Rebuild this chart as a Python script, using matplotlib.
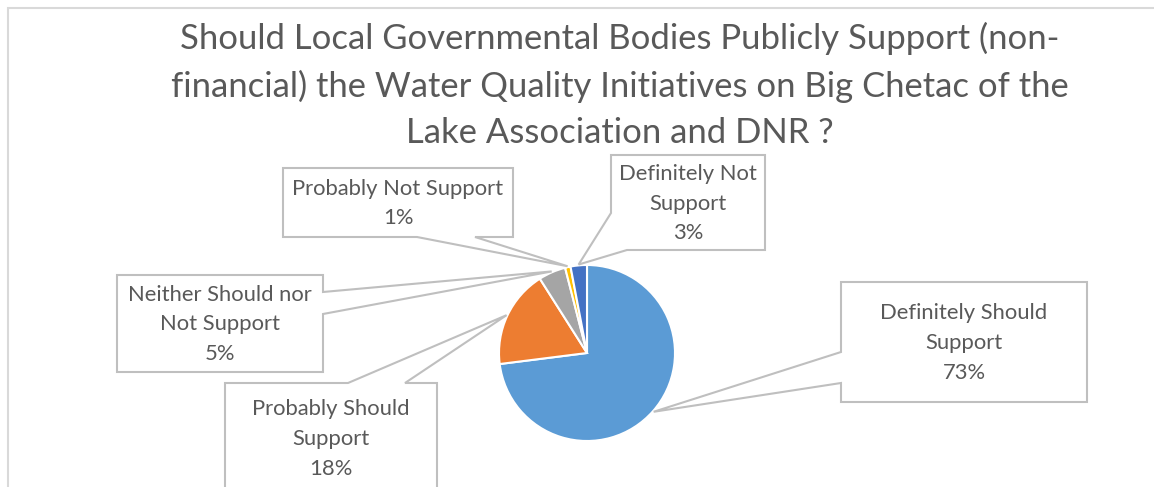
import numpy as np
import matplotlib.pyplot as plt
from matplotlib.patches import Polygon

# datos
labels = ['Definitely Should\nSupport', 'Probably Should\nSupport', 'Neither Should nor\nNot Support',
          'Probably Not Support', 'Definitely Not\nSupport']
values = [73, 18, 5, 1, 3]
colors = ['#5B9BD5', '#ED7D31', '#A5A5A5', '#FFC000', '#4472C4']
title = ('Should Local Governmental Bodies Publicly Support (non-\n'
         'financial) the Water Quality Initiatives on Big Chetac of the\n'
         'Lake Association and DNR ?')

W, H = 1154, 487
cx, cy, r = 587, 353, 88
gray_txt = '#595959'
gray_ln = '#BFBFBF'
plt.rcParams['font.family'] = ['Lato', 'DejaVu Sans']

fig = plt.figure(figsize=(W/100, H/100), dpi=100)
ax = fig.add_axes([0, 0, 1, 1])
ax.set_xlim(0, W); ax.set_ylim(H, 0)
ax.set_aspect('equal'); ax.axis('off')

# marco del grafico
ax.plot([8, 8, W + 5], [H + 5, 8, 8], color='#D9D9D9', lw=1.5, solid_joinstyle='miter')

wedges, _ = ax.pie(values, colors=colors, center=(cx, cy), radius=r, startangle=-90,
                   counterclock=True, wedgeprops=dict(edgecolor='white', linewidth=1.5),
                   frame=True)
ax.set_xlim(0, W); ax.set_ylim(H, 0); ax.axis('off')

# cajas de etiquetas: rect (x0,y0,x1,y1), indice de insercion, puntos de union, esquinas a saltar
boxes = [
    ((841, 282, 1087, 402), 4, [(841, 383), (841, 352)], 0),
    ((225, 383, 437, 495), 1, [(348, 383), (405, 383)], 0),
    ((117, 275, 323, 372), 2, [(323, 292), (323, 314)], 0),
    ((283, 168, 513, 237), 3, [(475, 237), (417, 237)], 0),
    ((611, 155, 765, 250), 3, [(627, 250), (611, 213)], 1),
]

tot = sum(values)
acc = 0
for i, v in enumerate(values):
    mid = (acc + v/2)/tot*2*np.pi
    acc += v
    ax_, ay_ = cx + r*1.01*np.sin(mid), cy - r*1.01*np.cos(mid)
    (x0, y0, x1, y1), k, (a1, a2), skip = boxes[i]
    corners = [(x0, y0), (x1, y0), (x1, y1), (x0, y1)]
    verts = corners[:k] + [a1, (ax_, ay_), a2] + corners[k+skip:]
    ax.add_patch(Polygon(verts, closed=True, facecolor='white', edgecolor=gray_ln,
                         lw=1.5, joinstyle='miter', zorder=3))
    y_c = min((y0 + y1)/2, 438)
    pct = f'{v}%'
    ax.text((x0 + x1)/2, y_c + 1, labels[i] + '\n' + pct, ha='center', va='center',
            fontsize=15.8, color=gray_txt, linespacing=1.6, zorder=4)

ax.text(620, 143, title, ha='center', va='baseline', fontsize=24.9, color=gray_txt, linespacing=1.55)

fig.savefig('out.png', dpi=100)
